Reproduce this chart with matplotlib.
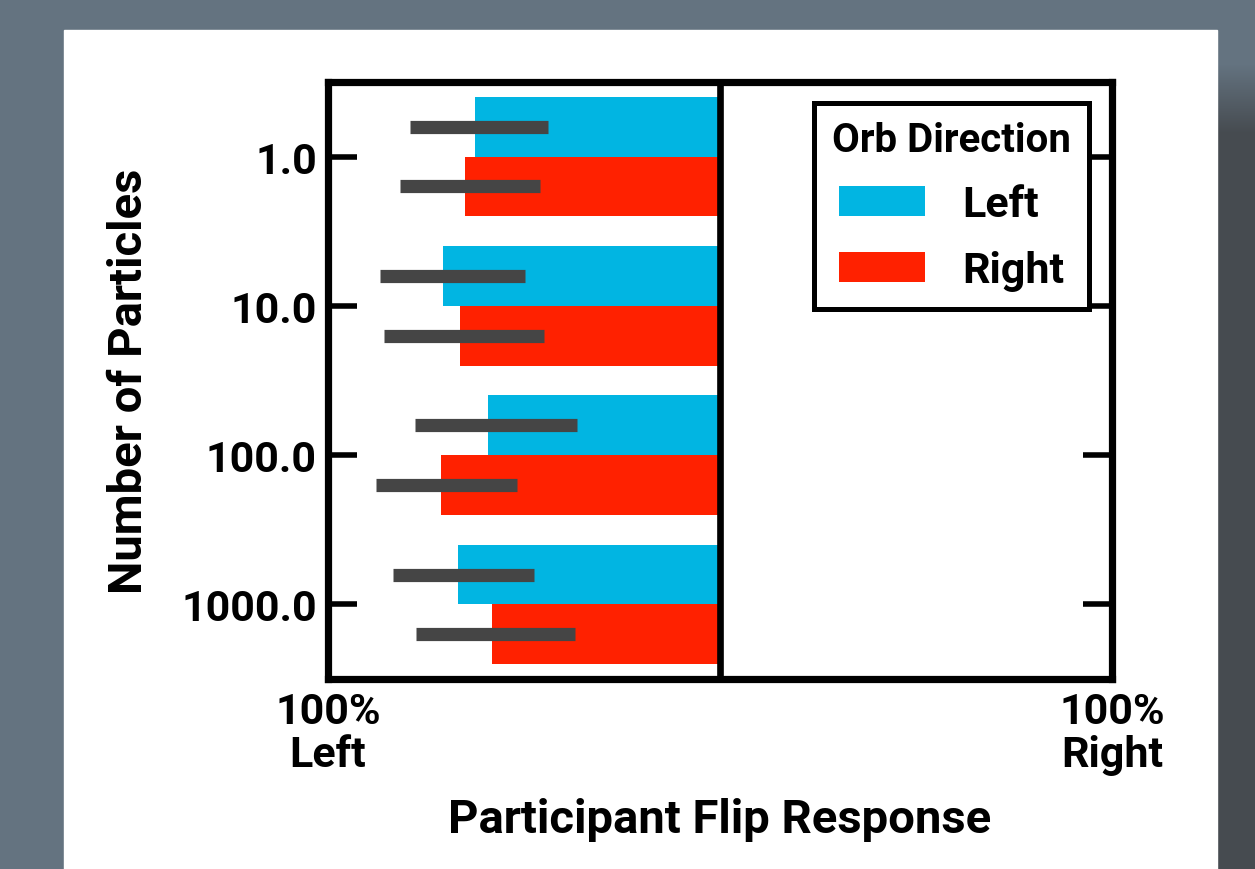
import numpy as np
import matplotlib
matplotlib.use("Agg")
import matplotlib.pyplot as plt

plt.rcParams['font.family'] = ['Roboto', 'DejaVu Sans']
plt.rcParams['font.weight'] = 'bold'
plt.rcParams['axes.labelweight'] = 'bold'

particles = ['1.0', '10.0', '100.0', '1000.0']
directions = ['Left', 'Right']

# mean flip response (-1 = 100% left, +1 = 100% right)
left_mean = [-0.625, -0.707, -0.592, -0.668]
right_mean = [-0.651, -0.663, -0.712, -0.582]
# error bar ends
left_lo = [-0.791, -0.867, -0.778, -0.834]
left_hi = [-0.439, -0.497, -0.365, -0.474]
right_lo = [-0.816, -0.857, -0.878, -0.776]
right_hi = [-0.459, -0.449, -0.518, -0.370]

colors = {'Left': '#01b5e2', 'Right': '#ff2100'}

fig = plt.figure(figsize=(12.55, 8.7), dpi=100, facecolor='#647380')

# white card behind the plot
W, H = 1255.0, 870.0
fig.patches.append(plt.Rectangle((64 / W, 0), (1217 - 64) / W, 1 - 31 / H,
                                 transform=fig.transFigure, color='white', zorder=0))
# dark strip on the right edge with a soft top
strip = fig.add_axes([1217 / W, 0, 1 - 1217 / W, 1], zorder=0)
grad = np.ones((870, 1))
top = np.linspace(0, 1, 70)
grad[:65] = 0
grad[65:135] = top[:, None]
top_rgb = np.array([0x64, 0x73, 0x80]) / 255
bot_rgb = np.array([0x46, 0x4b, 0x50]) / 255
img = top_rgb[None, None, :] * (1 - grad[:, :, None]) + bot_rgb[None, None, :] * grad[:, :, None]
strip.imshow(img, aspect='auto', extent=(0, 1, 0, 1), origin='upper')
strip.axis('off')

ax = fig.add_axes([328 / W, 1 - 680 / H, (1112 - 328) / W, (680 - 83) / H], zorder=2)

y = np.arange(len(particles))
h = 0.4
ax.barh(y - h / 2, left_mean, height=h, color=colors['Left'], label='Left', zorder=2)
ax.barh(y + h / 2, right_mean, height=h, color=colors['Right'], label='Right', zorder=2)

lines = ax.hlines(list(y - h / 2) + list(y + h / 2), left_lo + right_lo, left_hi + right_hi,
                  colors='#454545', linewidth=9.5, zorder=3)
lines.set_capstyle('butt')

ax.axvline(0, color='black', linewidth=4.8, zorder=4)

ax.set_xlim(-1, 1)
ax.set_ylim(3.5, -0.5)
ax.set_yticks(y)
ax.set_yticklabels(particles, fontsize=31)
ax.set_xticks([-1, 1])
ax.set_xticklabels(['100%\nLeft', '100%\nRight'], fontsize=31, linespacing=1.05)
ax.tick_params(axis='y', direction='in', length=21, width=4, left=True, right=True, pad=8)
ax.tick_params(axis='x', length=0, pad=9)
for s in ax.spines.values():
    s.set_linewidth(5.2)

ax.set_ylabel('Number of Particles', fontsize=34, labelpad=22)
ax.set_xlabel('Participant Flip Response', fontsize=34, labelpad=16)

leg = ax.legend(title='Orb Direction', fontsize=31, title_fontsize=29,
                loc='upper right', bbox_to_anchor=(0.971, 0.965), borderaxespad=0,
                handlelength=2.0, handleheight=0.72, handletextpad=0.85,
                labelspacing=0.58, borderpad=0.42, fancybox=False, framealpha=1)
leg.get_frame().set_edgecolor('black')
leg.get_frame().set_linewidth(3.6)
leg.get_title().set_fontweight('bold')
leg.set_zorder(10)

fig.savefig('out.png', dpi=100, facecolor=fig.get_facecolor())
